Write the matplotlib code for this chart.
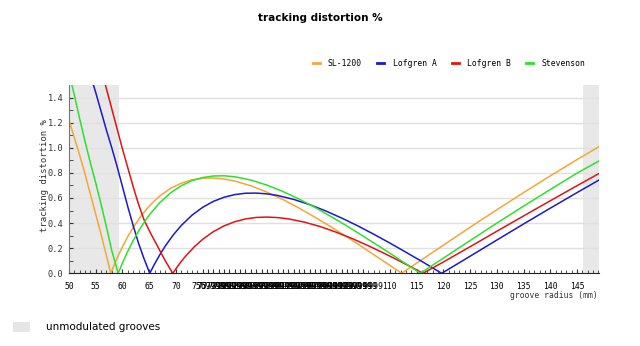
import matplotlib
matplotlib.use("Agg")
import matplotlib.pyplot as plt
from matplotlib.lines import Line2D
from matplotlib.patches import Patch

# groove radius (mm) / tracking distortion (%)
sl1200_r = [50, 51, 52, 53, 54, 55, 56, 57, 57.8, 59, 60, 61, 62, 63.5, 65, 67, 69, 71, 73, 75,
            77, 79, 81, 84, 87, 90, 93, 96, 99, 102, 105, 108, 110, 112.2,
            115, 120, 125, 130, 135, 140, 145, 149.1]
sl1200_d = [1.22, 1.08, 0.94, 0.79, 0.63, 0.47, 0.31, 0.14, 0.0, 0.122, 0.212, 0.293, 0.365, 0.458,
            0.536, 0.617, 0.677, 0.718, 0.745, 0.758, 0.759, 0.751, 0.735, 0.697, 0.647, 0.588,
            0.520, 0.447, 0.370, 0.289, 0.205, 0.120, 0.063, 0.0,
            0.081, 0.224, 0.367, 0.506, 0.643, 0.776, 0.906, 1.009]

lofgren_a_r = [54.0, 55, 56, 57, 58, 59, 60, 61, 62, 63, 64, 65.1, 66, 67, 68, 69.5, 71, 73, 75,
               77, 79, 81, 83, 85, 87, 89, 92, 95, 98, 101, 104, 107, 110, 113, 116, 119.7,
               125, 130, 135, 140, 145, 149.1]
lofgren_a_d = [1.58, 1.44, 1.29, 1.14, 1.0, 0.85, 0.69, 0.53, 0.38, 0.24, 0.12, 0.0, 0.074, 0.149,
               0.217, 0.306, 0.381, 0.463, 0.526, 0.573, 0.606, 0.627, 0.638, 0.639, 0.633, 0.620,
               0.589, 0.547, 0.497, 0.440, 0.378, 0.311, 0.241, 0.168, 0.094, 0.0,
               0.136, 0.265, 0.393, 0.519, 0.643, 0.743]

lofgren_b_r = [56.3, 57, 58, 59, 60, 61, 62, 63, 64, 65, 66, 67, 68, 69.4, 70.3, 71, 72, 73.5, 75,
               77, 79, 81, 83, 85, 87, 89, 91, 94, 97, 100, 103, 106, 109, 112, 114, 116.2,
               120, 125, 130, 135, 140, 145, 149.1]
lofgren_b_d = [1.58, 1.47, 1.31, 1.15, 0.99, 0.84, 0.69, 0.55, 0.43, 0.34, 0.26, 0.18, 0.10, 0.0,
               0.055, 0.095, 0.146, 0.214, 0.271, 0.332, 0.378, 0.411, 0.433, 0.445, 0.448, 0.444,
               0.434, 0.408, 0.372, 0.327, 0.276, 0.219, 0.158, 0.094, 0.050, 0.0,
               0.090, 0.212, 0.335, 0.457, 0.578, 0.698, 0.795]

stevenson_r = [50.2, 51, 52, 53, 54, 55, 56, 57, 58, 59.2, 60, 61, 62, 63.5, 65, 67, 69, 71, 73,
               75, 77, 79, 81, 84, 87, 90, 93, 96, 99, 102, 105, 108, 111, 113.5, 115.7,
               120, 125, 130, 135, 140, 145, 149.1]
stevenson_d = [1.56, 1.42, 1.23, 1.05, 0.88, 0.72, 0.55, 0.37, 0.18, 0.0, 0.083, 0.176, 0.261,
               0.371, 0.464, 0.564, 0.641, 0.698, 0.738, 0.763, 0.775, 0.777, 0.769, 0.743,
               0.703, 0.652, 0.592, 0.525, 0.452, 0.376, 0.296, 0.215, 0.132, 0.062, 0.0,
               0.121, 0.261, 0.400, 0.535, 0.668, 0.798, 0.895]

series_names = ["SL-1200", "Lofgren A", "Lofgren B", "Stevenson"]
series_colors = ["#f4a736", "#1a1acc", "#e01414", "#2ee02e"]

# unmodulated groove zones (mm)
inner_zone = (50, 59.3)
outer_zone = (146.1, 149.1)

# x tick labels (the middle ones overlap in the original)
outer_ticks = [50, 55, 60, 65, 70, 110, 115, 120, 125, 130, 135, 140, 145]
mid_ticks = list(range(75, 106))
mid_labels = ["75"] + [f"{t - 1}.9999" for t in mid_ticks[1:]]

mono = "DejaVu Sans Mono"

fig = plt.figure(figsize=(6.4, 3.46), dpi=100)
ax = fig.add_axes([0.1078, 0.2101, 0.8281, 0.5442])

ax.axvspan(*inner_zone, color="#e8e8e8", lw=0, zorder=0)
ax.axvspan(*outer_zone, color="#e8e8e8", lw=0, zorder=0)
for y in [0.2, 0.4, 0.6, 0.8, 1.0, 1.2, 1.4]:
    ax.axhline(y, color="#e0e0e0", lw=1.0, zorder=0.5)

data = [(sl1200_r, sl1200_d), (lofgren_a_r, lofgren_a_d),
        (lofgren_b_r, lofgren_b_d), (stevenson_r, stevenson_d)]
for (r, d), name, c in zip(data, series_names, series_colors):
    ax.plot(r, d, color=c, lw=1.1, label=name, zorder=2)

ax.set_xlim(50, 149.1)
ax.set_ylim(0, 1.5)

ticks = sorted(outer_ticks + mid_ticks)
labels = {t: str(t) for t in outer_ticks}
labels.update(dict(zip(mid_ticks, mid_labels)))
ax.set_xticks(ticks)
ax.set_xticklabels([labels[t] for t in ticks], fontfamily=mono, fontsize=5.8)
ax.set_xticks(range(50, 150), minor=True)
ax.set_yticks([0.0, 0.2, 0.4, 0.6, 0.8, 1.0, 1.2, 1.4])
ax.set_yticklabels(["0.0", "0.2", "0.4", "0.6", "0.8", "1.0", "1.2", "1.4"],
                   fontfamily=mono, fontsize=6.2, color="#333333")
ax.set_yticks([i / 10 for i in range(15)], minor=True)
ax.tick_params(axis="both", which="both", direction="in", color="#333333")
ax.tick_params(axis="x", which="major", length=3.2, pad=6.5)
ax.tick_params(axis="x", which="minor", length=2.2)
ax.tick_params(axis="y", which="major", length=3, pad=4)
ax.tick_params(axis="y", which="minor", length=3)

for s in ["top", "right"]:
    ax.spines[s].set_visible(False)
ax.spines["left"].set_color("#777777")
ax.spines["bottom"].set_color("#222222")

fig.text(0.5, 0.949, "tracking distortion %", ha="center", va="center",
         fontsize=7.5, fontweight="bold")
fig.text(0.069, 0.494, "tracking distortion %", rotation=90, ha="center", va="center",
         fontfamily=mono, fontsize=6.5, color="#333333")
fig.text(0.934, 0.147, "groove radius (mm)", ha="right", va="center",
         fontfamily=mono, fontsize=5.8, color="#333333")

handles = [Line2D([], [], color=c, lw=2) for c in series_colors]
fig.legend(handles, series_names, loc="center left", bbox_to_anchor=(0.482, 0.817),
           ncol=4, frameon=False, handlelength=0.9, handletextpad=1.0,
           columnspacing=1.9, prop={"family": mono, "size": 5.8}, borderpad=0)

fig.legend([Patch(facecolor="#e6e6e6", edgecolor="none")], ["unmodulated grooves"],
           loc="center left", bbox_to_anchor=(0.012, 0.055), frameon=False,
           handlelength=1.6, handleheight=1.1, handletextpad=1.6,
           prop={"size": 7.5}, borderpad=0)

fig.savefig("out.png", dpi=100)
